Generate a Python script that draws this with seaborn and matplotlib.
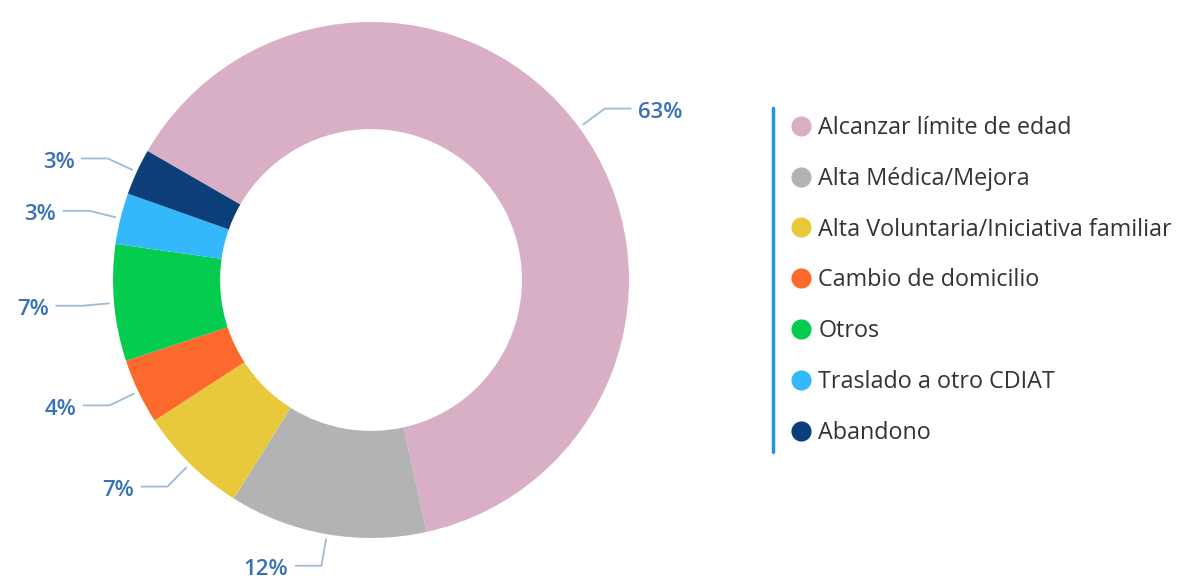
import numpy as np
import matplotlib
matplotlib.use("Agg")
import matplotlib.pyplot as plt
from matplotlib.lines import Line2D
import seaborn as sns

# data (percent of all discharges)
categories = ["Alcanzar límite de edad", "Alta Médica/Mejora",
              "Alta Voluntaria/Iniciativa familiar", "Cambio de domicilio",
              "Otros", "Traslado a otro CDIAT", "Abandono"]
values = [63.2, 12.4, 6.9, 4.1, 7.3, 3.2, 2.9]
colors = ["#d9afc6", "#b3b3b3", "#e8c93c", "#fb6a2c", "#04cc4e", "#34b8fb", "#0c3f7a"]

sns.set_theme(style="white")
plt.rcParams["font.family"] = ["Open Sans", "DejaVu Sans"]
pal = sns.color_palette(colors)

fig = plt.figure(figsize=(11.8, 5.81), dpi=100)
ax = fig.add_axes([0, 0, 1, 1])

cx, cy, R = 371, 301, 258
wedges, _ = ax.pie(values, colors=pal, startangle=150, counterclock=False,
                   center=(cx, cy), radius=R, frame=True,
                   wedgeprops=dict(width=R * 0.415, linewidth=0))
ax.set_xlim(0, 1180)
ax.set_ylim(0, 581)
ax.set_aspect("equal")
ax.axis("off")

# percent labels with elbow leader lines
for w, v in zip(wedges, values):
    ang = np.deg2rad((w.theta1 + w.theta2) / 2)
    x0, y0 = cx + 263 * np.cos(ang), cy + 263 * np.sin(ang)
    x1, y1 = cx + 290 * np.cos(ang), cy + 290 * np.sin(ang)
    side = 1 if np.cos(ang) > 0 else -1
    x2 = x1 + side * 26
    ax.plot([x0, x1, x2], [y0, y1, y1], color="#9dbad6", lw=1.3,
            solid_capstyle="round")
    ax.text(x2 + side * 7, y1 - 4, f"{round(v)}%", ha="left" if side > 0 else "right",
            va="center", fontsize=16, fontweight="semibold", color="#3a70b5")

# legend
handles = [Line2D([], [], marker="o", linestyle="", markersize=14.5,
                  markerfacecolor=c, markeredgewidth=0) for c in pal]
leg = ax.legend(handles, categories, loc="upper left", bbox_to_anchor=(792 / 1180, 1 - 116 / 581),
                frameon=False, fontsize=16.8, labelspacing=1.15, handlelength=0.8,
                handletextpad=0.33, borderaxespad=0, borderpad=0)
for t in leg.get_texts():
    t.set_color("#333333")

fig.add_artist(Line2D([773 / 1180, 773 / 1180], [1 - 108 / 581, 1 - 452 / 581],
                      color="#1f93e6", lw=2.5))

fig.savefig("out.png", dpi=100)
